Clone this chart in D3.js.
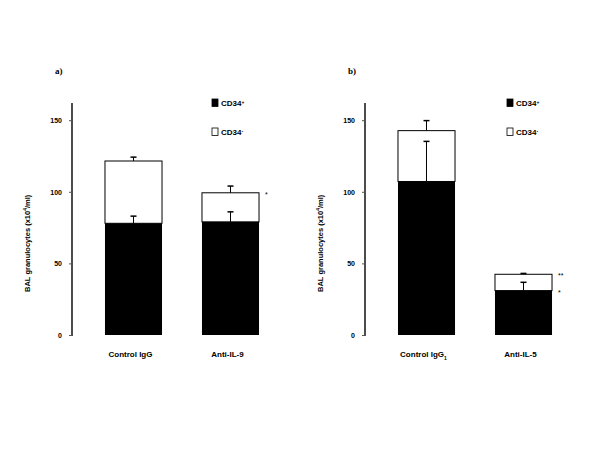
<!DOCTYPE html>
<html>
<head>
<meta charset="utf-8">
<script src="https://cdn.jsdelivr.net/npm/d3@7"></script>
<style>
  body { margin: 0; background: #fff; }
  svg text { font-family: "Liberation Sans", Arial, sans-serif; font-weight: bold; fill: #000; }
  .panel-tag { font-family: "Liberation Serif", "Times New Roman", serif; font-size: 9px; }
</style>
</head>
<body>
<svg id="chart" width="600" height="450"></svg>
<script>
// panel a
const groupsA = ["Control IgG", "Anti-IL-9"];
const posA = [78, 79];          // CD34+ mean
const posErrA = [5, 7];
const negA = [43.5, 20.3];      // CD34- stacked on top
const totErrA = [2.7, 4.7];
const starsA = [null, {total: "*", pos: null}];

// panel b
const groupsB = ["Control IgG", "Anti-IL-5"];
const subB = ["1", null];
const posB = [107.2, 31];
const posErrB = [28, 5.8];
const negB = [35.5, 11.4];
const totErrB = [7, 0.6];
const starsB = [null, {total: "**", pos: "*"}];

const yTicks = [0, 50, 100, 150];
const legendLabels = ["CD34", "CD34"];
const legendSigns = ["+", "-"];

const svg = d3.select("#chart");

function drawPanel(cfg) {
  const g = svg.append("g");
  const y = d3.scaleLinear().domain([0, 162]).range([335, 103]);
  const x = d3.scaleBand().domain(cfg.groups).range([cfg.axisX, cfg.axisX + 220]).paddingInner(0.412).paddingOuter(0.34);

  // axis
  const ax = g.append("g").attr("transform", `translate(${cfg.axisX},0)`)
    .call(d3.axisLeft(y).tickValues(yTicks).tickSize(3).tickPadding(7));
  ax.select(".domain").attr("stroke", "#000").attr("stroke-width", 1.4).attr("d", `M0,${y(0) + 1}H0V${y(162)}`);
  ax.selectAll(".tick line").attr("stroke", "#555");
  ax.selectAll(".tick text").style("font-size", "7px").attr("font-family", null);

  // y label
  g.append("text")
    .attr("transform", `translate(${cfg.axisX - 42},${y(64)}) rotate(-90)`)
    .attr("text-anchor", "middle").style("font-size", "7.5px")
    .html('BAL granulocytes (x10<tspan dy="-3" style="font-size:5px">4</tspan><tspan dy="3">/ml)</tspan>');

  cfg.groups.forEach((name, i) => {
    const x0 = x(name), w = x.bandwidth(), cx = x0 + w / 2;
    const total = cfg.pos[i] + cfg.neg[i];
    // CD34- segment
    g.append("rect").attr("x", x0).attr("y", y(total)).attr("width", w).attr("height", y(cfg.pos[i]) - y(total))
      .attr("fill", "#fff").attr("stroke", "#000").attr("stroke-width", 1);
    // CD34+ segment
    g.append("rect").attr("x", x0).attr("y", y(cfg.pos[i])).attr("width", w).attr("height", y(0) - y(cfg.pos[i]))
      .attr("fill", "#000");
    // error bars
    [[total, cfg.totErr[i]], [cfg.pos[i], cfg.posErr[i]]].forEach(([m, e]) => {
      g.append("line").attr("x1", cx).attr("x2", cx).attr("y1", y(m)).attr("y2", y(m + e))
        .attr("stroke", "#000").attr("stroke-width", 1);
      g.append("line").attr("x1", cx - 3).attr("x2", cx + 3).attr("y1", y(m + e)).attr("y2", y(m + e))
        .attr("stroke", "#000").attr("stroke-width", 1.5);
    });
    // x label
    const lab = g.append("text").attr("x", cx - 3).attr("y", 357).attr("text-anchor", "middle").style("font-size", "8px").text(name);
    if (cfg.sub && cfg.sub[i]) lab.append("tspan").attr("dy", 2.5).style("font-size", "5px").text(cfg.sub[i]);
    // significance
    const s = cfg.stars[i];
    if (s) {
      if (s.total) g.append("text").attr("x", x0 + w + 6).attr("y", y(total) + 4).style("font-size", "7px").style("font-weight", "normal").text(s.total);
      if (s.pos) g.append("text").attr("x", x0 + w + 6).attr("y", y(cfg.pos[i]) + 4).style("font-size", "7px").style("font-weight", "normal").text(s.pos);
    }
  });

  // legend
  legendLabels.forEach((l, j) => {
    const ly = 99 + j * 29;
    g.append("rect").attr("x", cfg.legX).attr("y", ly).attr("width", 6).attr("height", 7.5)
      .attr("fill", j === 0 ? "#000" : "#fff").attr("stroke", "#000").attr("stroke-width", 0.8);
    g.append("text").attr("x", cfg.legX + 9).attr("y", ly + 7).style("font-size", "8px")
      .html(`${l}<tspan dy="-2.5" style="font-size:5px">${legendSigns[j]}</tspan>`);
  });

  g.append("text").attr("class", "panel-tag").attr("x", cfg.axisX - 17).attr("y", 74).text(cfg.tag);
}

drawPanel({axisX: 72, groups: groupsA, pos: posA, posErr: posErrA, neg: negA, totErr: totErrA, stars: starsA, legX: 212, tag: "a)"});
drawPanel({axisX: 365, groups: groupsB, sub: subB, pos: posB, posErr: posErrB, neg: negB, totErr: totErrB, stars: starsB, legX: 507, tag: "b)"});
</script>
</body>
</html>
